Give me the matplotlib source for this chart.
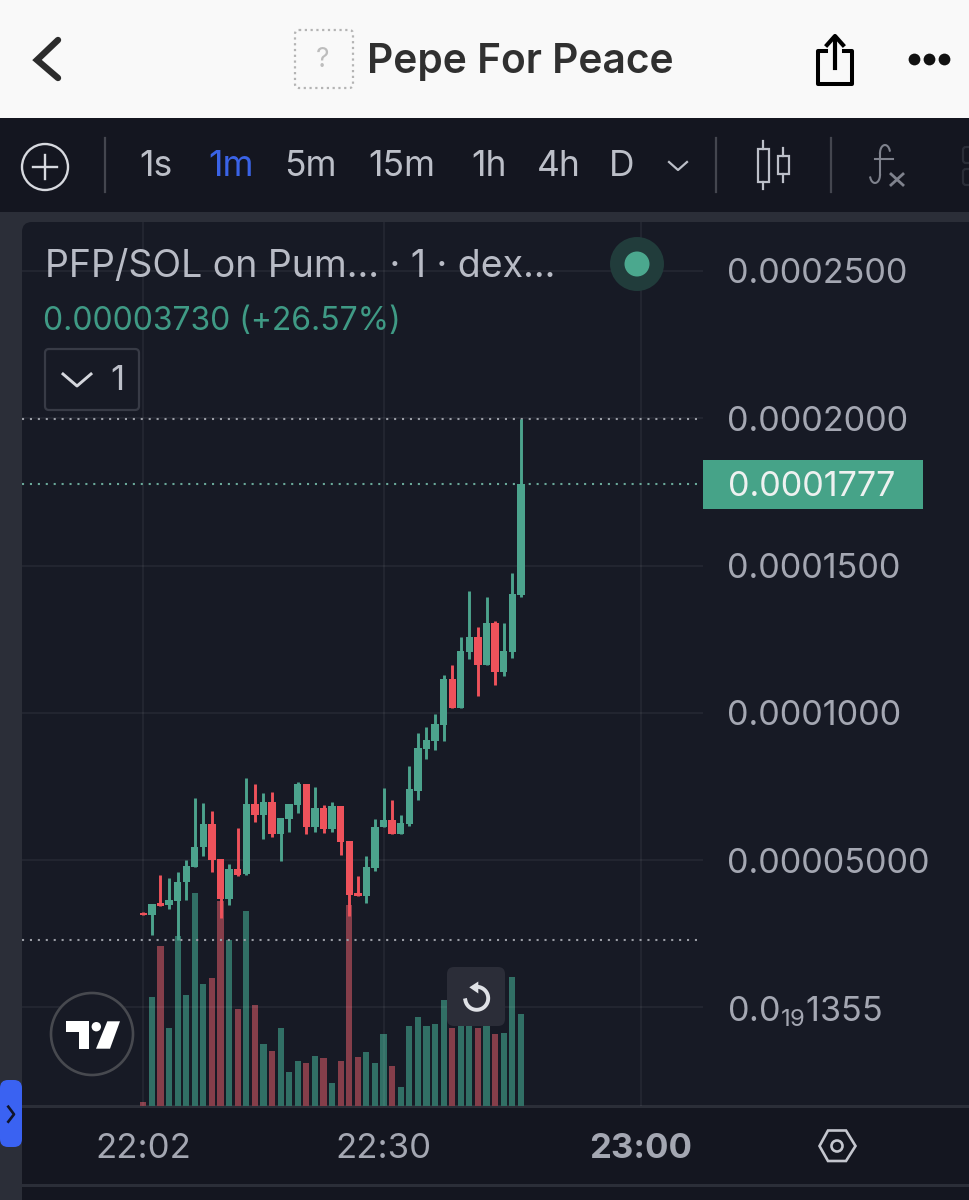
import numpy as np
import matplotlib
matplotlib.use("Agg")
import matplotlib.pyplot as plt
from matplotlib.patches import Rectangle, FancyBboxPatch, Circle, Polygon
from matplotlib.transforms import blended_transform_factory

plt.rcParams['font.family'] = ['Inter', 'DejaVu Sans']
plt.rcParams['mathtext.fontset'] = 'custom'
plt.rcParams['mathtext.rm'] = 'Inter'

# ---------- data (prices in units of 1e-5, minutes after 22:02) ----------
opens = [3.22,3.14,3.54,3.46,3.62,4.25,4.78,5.44,6.23,5.03,3.68,4.69,4.52,6.90,6.53,6.97,5.89,6.39,6.87,7.58,
         6.14,6.76,6.06,6.84,5.65,3.88,3.78,4.74,6.12,6.36,5.89,6.23,7.36,8.76,9.03,9.58,11.15,10.15,12.06,12.56,
         11.61,13.06,11.38,12.06,14.00]
closes = [3.14,3.51,3.44,3.65,4.27,4.80,5.46,6.23,5.01,3.67,4.69,4.50,6.90,6.53,6.97,5.89,6.42,6.90,7.58,6.14,
          6.76,6.06,6.84,5.63,3.82,3.79,4.78,6.14,6.36,5.89,6.27,7.41,8.80,9.07,9.61,11.15,10.15,12.09,12.56,11.61,
          13.06,11.40,12.09,14.03,17.77]
highs = [3.24,3.51,4.50,4.40,4.61,5.01,7.12,6.95,6.65,5.05,4.86,6.08,7.78,7.58,7.27,7.30,6.42,6.90,7.64,7.60,
         7.47,6.87,6.97,6.84,5.65,4.47,5.15,6.39,7.46,7.04,6.53,8.21,9.31,9.53,9.96,11.28,11.62,12.58,14.14,12.90,
         13.92,13.10,13.06,14.76,19.96]
lows = [3.12,2.46,3.44,3.34,2.29,3.65,4.78,5.15,4.58,3.03,3.48,4.46,4.50,6.31,5.72,5.78,4.97,5.97,6.61,5.89,
        5.97,5.91,5.97,5.18,3.11,3.79,3.54,4.63,6.12,5.89,5.89,6.16,7.04,8.42,8.74,9.03,10.15,10.15,11.84,10.58,
        11.61,10.94,11.26,11.87,13.94]
volumes = [4,109,160,78,170,111,213,122,128,205,166,97,195,101,62,55,78,34,45,43,50,48,23,45,201,49,54,43,72,40,
           19,80,89,80,82,106,78,85,90,78,90,72,73,129,92]
price_ticks = [0, 5, 10, 15, 20, 25]
price_labels = ['0.0$_{\\mathregular{19}}$1355', '0.00005000', '0.0001000', '0.0001500', '0.0002000', '0.0002500']
time_ticks = [0, 28, 58]
time_labels = ['22:02', '22:30', '23:00']
intervals = ['1s', '1m', '5m', '15m', '1h', '4h', 'D']
interval_x = [156, 231, 310, 402, 489, 559, 622]

# ---------- colours ----------
WHITE = '#f9f9f9'; BAR = '#141620'; PANEL = '#171a25'; STRIP = '#2b2e38'
UP = '#4ca38d'; DOWN = '#ee525b'; UPV = '#316f65'; DOWNV = '#853e4a'
TXT = '#a4a7b2'; TB = '#bcbfc8'

W, H = 970, 1200
fig = plt.figure(figsize=(W/100, H/100), dpi=100, facecolor=BAR)

def px_axes(l, t, r, b, z):
    return fig.add_axes([l/W, 1-b/H, (r-l)/W, (b-t)/H], zorder=z)

# ---------- background chrome (pixel coordinates) ----------
bg = px_axes(0, 0, W, H, 0)
bg.set_xlim(0, W); bg.set_ylim(H, 0); bg.axis('off')
bg.add_patch(Rectangle((0, 212), W, H-212, fc=STRIP, ec='none'))
bg.add_patch(FancyBboxPatch((30, 230), 1000, 1000, boxstyle='round,pad=8,rounding_size=10', fc=PANEL, ec='none'))
bg.add_patch(Rectangle((0, 118), W, 94, fc=BAR, ec='none'))
bg.add_patch(Rectangle((0, 0), W, 118, fc=WHITE, ec='none'))
bg.add_patch(Rectangle((22, 1107), W, 93, fc=BAR, ec='none'))
bg.add_patch(Rectangle((22, 1105), W, 2.5, fc=STRIP, ec='none'))
bg.add_patch(Rectangle((22, 1184), W, 2.5, fc=STRIP, ec='none'))

# ---------- volume ----------
L, T, R, B = 22, 222, 703, 1105.5
x = np.arange(len(closes))
xlim = (-14.14, 65.23)
ylim = (-3.33, 26.66)
axv = px_axes(L, T, R, B, 1)
axv.patch.set_alpha(0)
axv.set_xlim(xlim); axv.set_ylim(0, B-T); axv.axis('off')
up = np.array(closes) >= np.array(opens)
axv.bar(x, volumes, width=0.72, color=[UPV if u else DOWNV for u in up], linewidth=0)

# ---------- price ----------
ax = px_axes(L, T, R, B, 2)
ax.patch.set_alpha(0)
ax.set_xlim(xlim); ax.set_ylim(ylim)
for s in ax.spines.values():
    s.set_visible(False)
ax.yaxis.tick_right()
ax.set_yticks(price_ticks, price_labels)
ax.set_xticks(time_ticks, time_labels)
ax.tick_params(axis='y', length=0, pad=17, labelsize=24.6, labelcolor=TXT)
ax.tick_params(axis='x', length=0, pad=20, labelsize=25, labelcolor=TXT)
ax.get_xticklabels()[2].set_fontweight('bold')
ax.grid(True, color='white', alpha=0.05, lw=1.4, zorder=0)
ax.set_axisbelow(True)
cols = [UP if u else DOWN for u in up]
ax.vlines(x, lows, highs, colors=cols, lw=2.1, zorder=3)
ax.bar(x, np.abs(np.array(closes)-np.array(opens)), bottom=np.minimum(opens, closes),
       width=0.86, color=cols, linewidth=0, zorder=4)
dots = (0, (1.0, 2.8))
ax.axhline(max(highs), color='#9a9da5', lw=1.5, ls=dots, xmax=0.996, zorder=2)
ax.axhline(closes[-1], color='#6aa899', lw=1.5, ls=dots, xmax=0.996, zorder=2)
ax.axhline(min(lows), color='#9a9da5', lw=1.5, ls=dots, xmax=0.996, zorder=2)

# ---------- overlay chrome ----------
ov = px_axes(0, 0, W, H, 3)
ov.patch.set_alpha(0)
ov.set_xlim(0, W); ov.set_ylim(H, 0); ov.axis('off')

# header
ov.plot([58, 37, 58], [40, 60, 78], color='#2c2c2c', lw=4.6, solid_capstyle='round', solid_joinstyle='miter')
ov.add_patch(FancyBboxPatch((299, 34), 50, 50, boxstyle='round,pad=4,rounding_size=4', fc='none', ec='#b4b4b4', lw=1.6, ls=(0, (1, 1.6))))
ov.text(323, 60, '?', color='#bdbdbd', fontsize=19, ha='center', va='center')
ov.text(367, 62, 'Pepe For Peace', color='#303030', fontsize=29.3, fontweight='semibold', ha='left', va='center')
ov.plot([826, 818, 818, 852, 852, 844], [51, 51, 84, 84, 51, 51], color='black', lw=2.9, solid_joinstyle='round')
ov.plot([835, 835], [38, 68], color='black', lw=3)
ov.plot([827, 835, 843], [45, 36, 45], color='black', lw=3)
ov.scatter([914, 929, 944], [59, 59, 59], s=72, color='#111111', linewidths=0)

# toolbar
ov.add_patch(Circle((45, 167), 23, fc='none', ec='#d7d9df', lw=1.7))
ov.plot([33, 57], [167, 167], color='#d7d9df', lw=1.7)
ov.plot([45, 45], [155, 179], color='#d7d9df', lw=1.7)
for sx in (105, 716, 831):
    ov.plot([sx, sx], [138, 192], color='#44464f', lw=1.6)
for lab, lx in zip(intervals, interval_x):
    ov.text(lx, 167, lab, color='#3a63e6' if lab == '1m' else TB, fontsize=25.5, ha='center', va='center')
ov.plot([669, 678, 687], [162, 170, 162], color=TB, lw=1.6)
ov.plot([763, 763], [141, 149], color=TB, lw=1.6); ov.plot([763, 763], [182, 189], color=TB, lw=1.6)
ov.add_patch(Rectangle((758, 149), 11, 33, fc='none', ec=TB, lw=1.6))
ov.plot([783, 783], [148, 156], color=TB, lw=1.6); ov.plot([783, 783], [174, 182], color=TB, lw=1.6)
ov.add_patch(Rectangle((778, 156), 11, 18, fc='none', ec=TB, lw=1.6))
ov.plot([880, 880], [153, 175], color='#7f828d', lw=1.5)
ov.plot([880 + 5*np.cos(a) + 5 for a in np.linspace(np.pi, 0.3, 12)],
        [153 - 8*np.sin(a) for a in np.linspace(np.pi, 0.3, 12)], color='#7f828d', lw=1.5)
ov.plot([880 - 5 + 5*np.cos(a) for a in np.linspace(0, -np.pi*0.9, 12)],
        [175 - 8*np.sin(a) for a in np.linspace(0, -np.pi*0.9, 12)], color='#7f828d', lw=1.5)
ov.plot([875, 893], [159, 159], color='#7f828d', lw=1.5)
ov.plot([891, 903], [174, 185], color='#7f828d', lw=2)
ov.plot([891, 903], [185, 174], color='#7f828d', lw=2)
ov.add_patch(FancyBboxPatch((964, 148), 10, 14, boxstyle='round,pad=1,rounding_size=3', fc='none', ec='#2a2d37', lw=1.6))
ov.add_patch(FancyBboxPatch((964, 170), 10, 14, boxstyle='round,pad=1,rounding_size=3', fc='none', ec='#2a2d37', lw=1.6))

# legend
ov.text(45, 267, 'PFP/SOL on Pum... · 1 · dex...', color='#b8bbc5', fontsize=27, ha='left', va='center')
ov.text(43, 321, '0.00003730 (+26.57%)', color='#3f9a85', fontsize=23, ha='left', va='center')
ov.add_patch(FancyBboxPatch((48, 352), 88, 55, boxstyle='round,pad=3,rounding_size=4', fc='none', ec='#383b46', lw=1.6))
ov.plot([63, 77, 91], [374, 386, 374], color='#d5d7dd', lw=2.1)
ov.text(117, 381, '1', color=TB, fontsize=25, ha='center', va='center')
ov.add_patch(Circle((637, 264), 27, fc='#213c3b', ec='none'))
ov.add_patch(Circle((637, 264), 12.5, fc='#4ba88e', ec='none'))

# last price tag
ov.add_patch(Rectangle((703, 460), 220, 49, fc='#46a388', ec='none'))

# TradingView logo
ov.add_patch(Circle((92, 1034), 41, fc=PANEL, ec='#47494f', lw=1.9))
ov.add_patch(Polygon([(66, 1021.3), (89, 1021.3), (89, 1048.7), (79.3, 1048.7), (79.3, 1031.7), (66, 1031.7)], fc='white', ec='none'))
ov.add_patch(Circle((96.3, 1026.7), 4.7, fc='white', ec='none'))
ov.add_patch(Polygon([(107.3, 1021.3), (120, 1021.3), (110, 1048.7), (96, 1048.7)], fc='white', ec='none'))

# reset button
ov.add_patch(FancyBboxPatch((452, 972), 48, 49, boxstyle='round,pad=5,rounding_size=7', fc='#2b2d38', ec='none'))
th = np.radians(np.linspace(90, -170, 50))
ov.plot(476.7 + 11.5*np.cos(th), 998.3 - 11.5*np.sin(th), color='#dfe1e6', lw=2.8)
ov.add_patch(Polygon([(469.3, 987.3), (478.3, 981.5), (478.3, 993.5)], fc='#dfe1e6', ec='none'))

# blue tab
ov.add_patch(FancyBboxPatch((7, 1087), 8, 53, boxstyle='round,pad=7,rounding_size=8', fc='#3a62f2', ec='none'))
ov.plot([8.3, 14, 8.3], [1106.7, 1114.3, 1121.7], color='#10142a', lw=1.9)

# settings hexagon
ov.add_patch(Polygon([(819.5, 1146), (828, 1130.5), (846, 1130.5), (855.5, 1146), (846, 1161), (828, 1161)],
                     fc='none', ec='#c4c6ce', lw=1.9))
ov.add_patch(Circle((837, 1146), 5.5, fc='none', ec='#c4c6ce', lw=1.9))

# last price text, on its own axes above the tag
axt = px_axes(L, T, R, B, 5)
axt.patch.set_alpha(0)
axt.set_xlim(xlim); axt.set_ylim(ylim); axt.axis('off')
axt.text(1.0 + 25/(R-L), closes[-1], f'{closes[-1]*1e-5:.7f}',
         transform=blended_transform_factory(axt.transAxes, axt.transData),
         color='#eef1f0', fontsize=24.6, ha='left', va='center_baseline', clip_on=False)

fig.savefig('out.png', dpi=100, facecolor=fig.get_facecolor())
